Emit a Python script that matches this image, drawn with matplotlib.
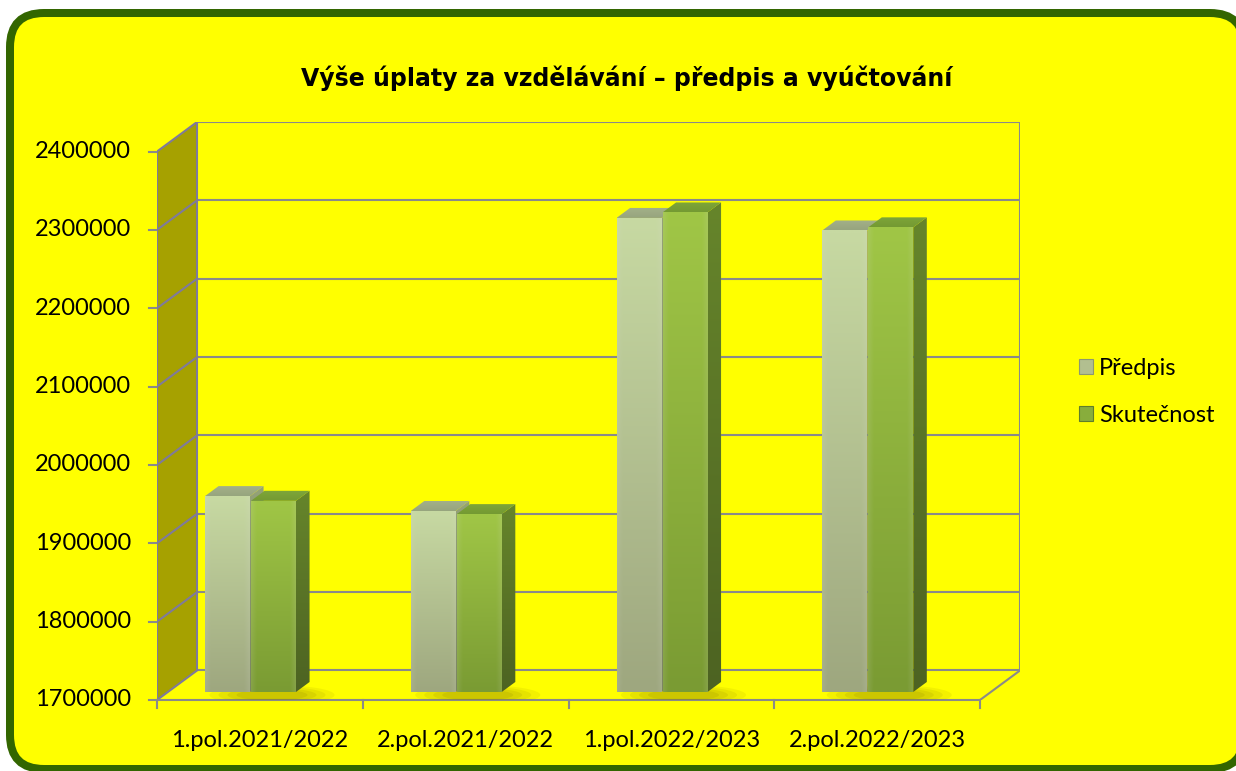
import numpy as np
import matplotlib
matplotlib.use("Agg")
import matplotlib.pyplot as plt
from matplotlib.patches import Polygon, FancyBboxPatch, Ellipse, Patch
from matplotlib.transforms import IdentityTransform
from matplotlib.colors import to_rgb

# ---------------- data ----------------
categories = ["1.pol.2021/2022", "2.pol.2021/2022", "1.pol.2022/2023", "2.pol.2022/2023"]
series_names = ["Předpis", "Skutečnost"]
predpis = [1950000, 1931000, 2305000, 2289000]
skutecnost = [1944000, 1927000, 2312000, 2293000]
y_ticks = [1700000, 1800000, 1900000, 2000000, 2100000, 2200000, 2300000, 2400000]
title = "Výše úplaty za vzdělávání – předpis a vyúčtování"

# ---------------- layout ----------------
W, H = 1236, 771
FONT = "Lato"
fig = plt.figure(figsize=(W / 100, H / 100), dpi=100)
fig.patch.set_facecolor("white")

# rounded yellow frame with dark green border (pixel coords)
frame = FancyBboxPatch((10, 2), 1234, 756, boxstyle="round,pad=0,rounding_size=34",
                       transform=IdentityTransform(), facecolor="#FFFF00",
                       edgecolor="#336600", linewidth=8 * 0.72, zorder=-5)
fig.patches.append(frame)

# axes geometry: front plane from x=157..980 px, y 700 (min) .. 152 (max)
left_px, right_px, bot_px, top_px = 157, 1020, 700, 122
ax = fig.add_axes([left_px / W, 1 - bot_px / H, (right_px - left_px) / W, (bot_px - top_px) / H])
ax.axis("off")
ax.patch.set_alpha(0)
ax.set_zorder(1)

ncat = len(categories)
xpp = ncat / 823.0                 # data x per pixel
ypp = (y_ticks[-1] - y_ticks[0]) / 548.0   # data y per pixel
DX = 40 * xpp
DY = 29.5 * ypp
ymin = y_ticks[0]
ymax = y_ticks[-1]
ax.set_xlim(0, ncat + DX)
ax.set_ylim(ymin, ymax + DY)

GRID = "#8a8a8a"
EDGE = "#7f7a9c"
lw = 1.5

# left side wall
wall = Polygon([(0, ymin), (0, ymax), (DX, ymax + DY), (DX, ymin + DY)],
               closed=True, facecolor="#A6A100", edgecolor="none", zorder=1)
ax.add_patch(wall)

# gridlines on back wall + diagonals on side wall
for v in y_ticks:
    ax.plot([DX, ncat + DX], [v + DY, v + DY], color=GRID, lw=lw, zorder=2, solid_capstyle="butt")
    ax.plot([0, DX], [v, v + DY], color=EDGE, lw=lw, zorder=2)
    ax.plot([-8 * xpp, 0], [v, v], color=GRID, lw=lw, zorder=2, clip_on=False)
    ax.text(-26 * xpp, v, f"{v}", ha="right", va="center", fontsize=17,
            family=FONT, color="black", clip_on=False)

# wall edges
ax.plot([DX, DX], [ymin + DY, ymax + DY], color=EDGE, lw=lw, zorder=2)
ax.plot([ncat + DX, ncat + DX], [ymin + DY, ymax + DY], color=GRID, lw=lw, zorder=2)
ax.plot([0, 0], [ymin, ymax], color=EDGE, lw=lw, zorder=2)
# floor edges
ax.plot([0, ncat], [ymin, ymin], color=GRID, lw=lw, zorder=2, clip_on=False)
ax.plot([ncat, ncat + DX], [ymin, ymin + DY], color=GRID, lw=lw, zorder=2)
for i in range(ncat + 1):
    ax.plot([i, i], [ymin, ymin - 8 * ypp], color=GRID, lw=lw, zorder=2, clip_on=False)
for i, c in enumerate(categories):
    ax.text(i + 0.5, ymin - 40 * ypp, c, ha="center", va="center", fontsize=17,
            family=FONT, color="black", clip_on=False)


def vgrad(top, bot, bevel=0.10, n=80, m=40):
    t = np.linspace(0, 1, n)[:, None, None]
    a = np.array(to_rgb(top))[None, None, :]
    b = np.array(to_rgb(bot))[None, None, :]
    img = a * (1 - t) + b * t
    img = np.repeat(img, m, axis=1)
    s = np.linspace(0, 1, m)
    edge = np.clip(1 - np.minimum(s, 1 - s) / 0.12, 0, 1)[None, :, None]
    img = img * (1 - bevel * edge) + bevel * edge * 1.0 * 0.85
    return np.clip(img, 0, 1)


def face(img, xs, ys, z):
    poly = Polygon(list(zip(xs, ys)), closed=True, transform=ax.transData,
                   facecolor="none", edgecolor="none")
    ax.add_patch(poly)
    im = ax.imshow(img, extent=[min(xs), max(xs), min(ys), max(ys)], aspect="auto",
                   interpolation="bilinear", zorder=z)
    im.set_clip_path(poly)


styles = [
    dict(front=("#C7D9A2", "#9EA77F"), side=("#94A278", "#7B8562"), top=("#A4B189", "#97A57E")),
    dict(front=("#A0C646", "#7A9B33"), side=("#66852B", "#4D6322"), top=("#7FA63A", "#749A32")),
]

d0 = 8 / 29.5      # depth fraction of bar front face
dd = 10 / 29.5     # bar depth fraction
bw = 45 * xpp      # bar width
centers = [i + 93 * xpp for i in range(ncat)]

# shadows
for i, cx in enumerate(centers):
    for k, a in enumerate([0.10, 0.12, 0.14, 0.16]):
        ax.add_patch(Ellipse((cx + 22 * xpp, ymin + d0 * DY - 3 * ypp),
                             (125 - 18 * k) * xpp, (20 - 3 * k) * ypp,
                             facecolor="#8a7f00", edgecolor="none", alpha=a, zorder=3))

for i in range(ncat):
    for s, vals in enumerate([predpis, skutecnost]):
        v = vals[i]
        st = styles[s]
        x0 = centers[i] - bw + s * bw + s * xpp
        x1 = x0 + bw
        b0 = ymin + d0 * DY
        t0 = v + d0 * DY
        ox, oy = dd * DX, dd * DY
        z = 4 + i * 2 + s * 0.5
        # side face
        face(vgrad(*st["side"], bevel=0.0), [x1, x1 + ox, x1 + ox, x1], [b0, b0 + oy, t0 + oy, t0], z)
        # top face
        face(vgrad(*st["top"], bevel=0.0), [x0, x1, x1 + ox, x0 + ox], [t0, t0, t0 + oy, t0 + oy], z)
        # front face
        face(vgrad(*st["front"], bevel=0.12), [x0, x1, x1, x0], [b0, b0, t0, t0], z + 0.1)

ax.set_xlim(0, ncat + DX)
ax.set_ylim(ymin, ymax + DY)

# title
fig.text(627 / W, 1 - 78 / H, title, ha="center", va="center", fontsize=17,
         fontweight="bold", family="DejaVu Sans", color="black")

# legend
handles = [Patch(facecolor="#B2BF90", edgecolor="#8d9870", linewidth=0.8),
           Patch(facecolor="#88AD3C", edgecolor="#5f7d2a", linewidth=0.8)]
leg = fig.legend(handles, series_names, loc="center left",
                 bbox_to_anchor=(1058 / W, 1 - 392 / H), bbox_transform=fig.transFigure,
                 frameon=False, prop=dict(family=FONT, size=17),
                 handlelength=0.6, handleheight=0.6, handletextpad=0.25, labelspacing=1.1)

fig.savefig("out.png", dpi=100, facecolor="white")
